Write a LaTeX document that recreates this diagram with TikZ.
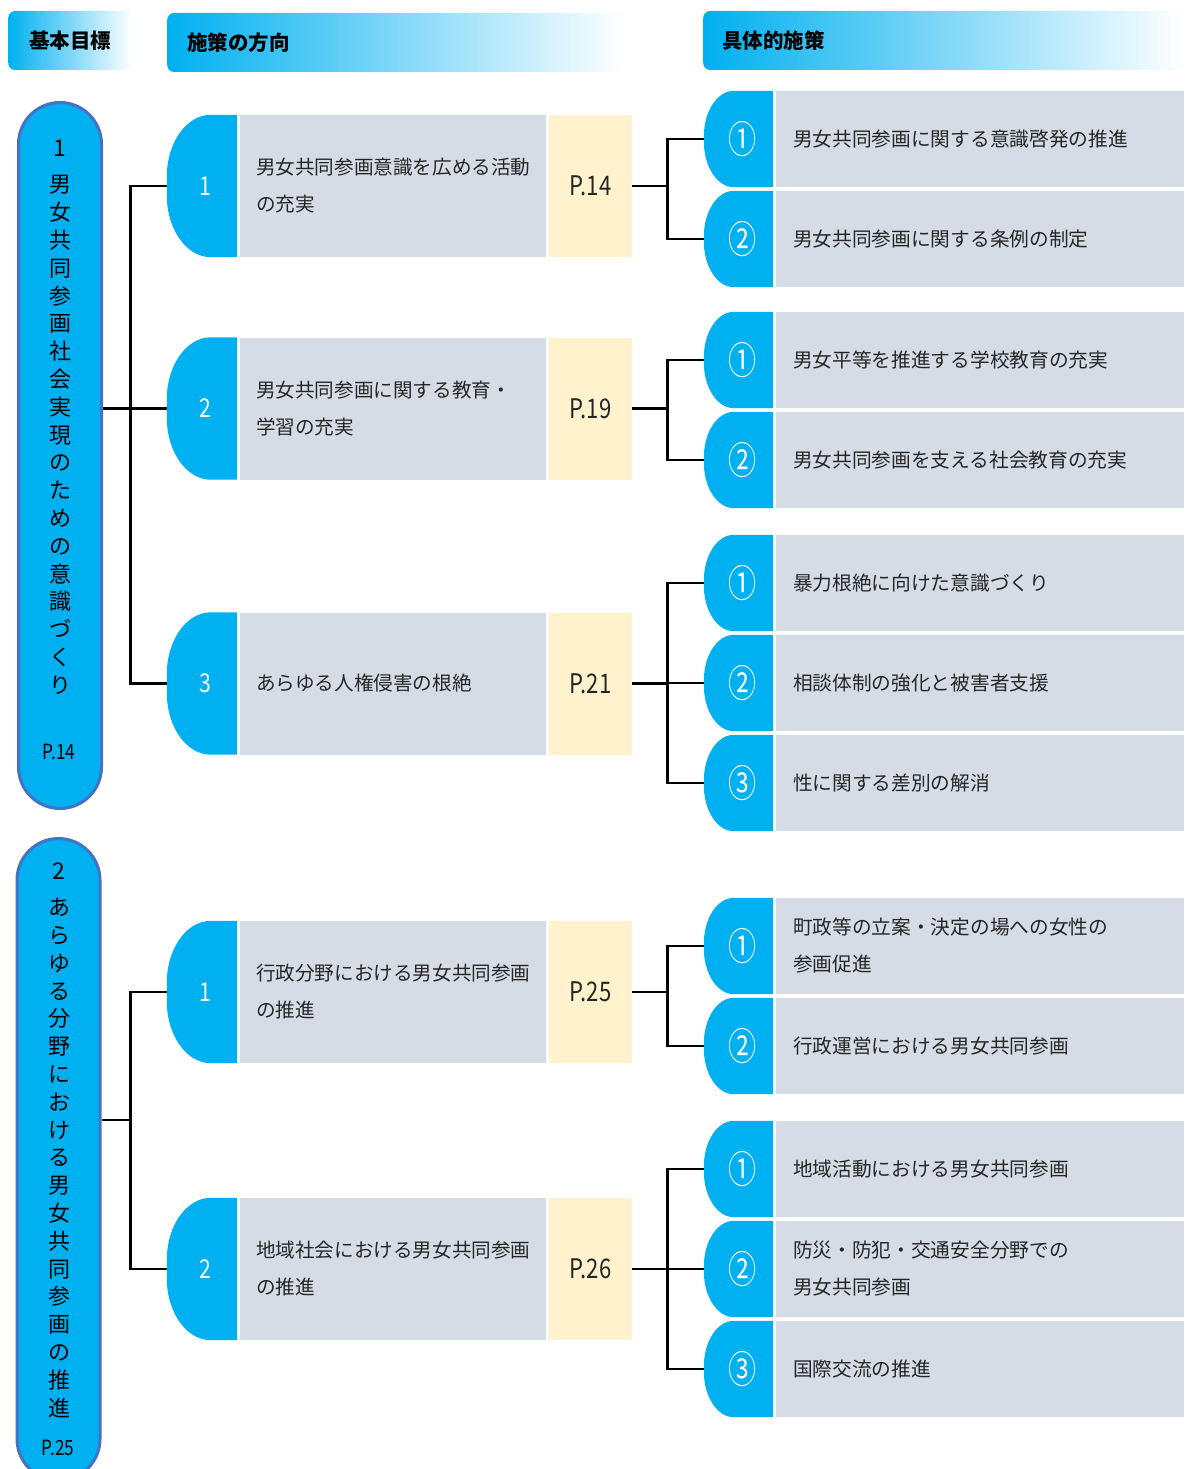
\documentclass[tikz,border=0pt]{standalone}
\usepackage{fontspec}
\setmainfont{Noto Sans CJK JP}
\newfontfamily\narrowfont[FakeStretch=0.82]{Noto Sans CJK JP}
\newfontfamily\circfont[FakeStretch=0.74]{Noto Sans CJK JP}
\usetikzlibrary{calc}
\definecolor{cblue}{HTML}{00B0F0}
\definecolor{mgray}{HTML}{D6DCE5}
\definecolor{pyellow}{HTML}{FFF2CC}
\definecolor{pborder}{HTML}{4472C4}
\definecolor{txt}{HTML}{262626}
\pgfdeclarelayer{background}
\pgfsetlayers{background,main}
\newcommand\bluetab[3]{%
\begin{pgfonlayer}{background}
\fill[cblue] (#1.north east) -- ($(#1.north west)+(#2,0)$)
 .. controls ($(#1.north west)+({0.448*#2},0)$) and ($(#1.north west)+(0,{0.448*#3})$) .. ($(#1.north west)+(0,#3)$)
 -- ($(#1.south west)+(0,-#3)$)
 .. controls ($(#1.south west)+(0,{-0.448*#3})$) and ($(#1.south west)+({0.448*#2},0)$) .. ($(#1.south west)+(#2,0)$)
 -- (#1.south east) -- cycle;
\end{pgfonlayer}}
\begin{document}
\begin{tikzpicture}[x=1pt,y=-1pt,
  conn/.style={line width=2.8pt,black},
  hdr/.style={rounded corners=7pt,left color=cblue,middle color=cblue!55!white,right color=white,
    minimum height=59pt,inner ysep=0pt,anchor=west,font=\bfseries\fontsize{20.5}{24}\selectfont,text=black},
  pill/.style={draw=pborder,line width=3pt,fill=cblue,rounded corners=41.5pt,minimum width=83pt,inner sep=0pt},
  vtext/.style={align=center,inner sep=0pt,font=\fontsize{22}{27.8}\selectfont,text=black},
  pnum/.style={inner sep=0pt,font=\fontsize{23}{26}\selectfont,text=black},
  ppage/.style={inner sep=0pt,font=\narrowfont\fontsize{21}{24}\selectfont,text=black},
  mnum/.style={minimum width=70pt,minimum height=142pt,inner sep=0pt,text=white,font=\narrowfont\fontsize{26}{28}\selectfont},
  mbox/.style={fill=mgray,minimum width=306pt,minimum height=142pt,text width=274pt,inner xsep=16pt,inner ysep=0pt,
    align=left,font=\fontsize{19.6}{37}\selectfont,text=txt},
  mpage/.style={fill=pyellow,minimum width=83pt,minimum height=142pt,inner sep=0pt,text=txt,
    font=\narrowfont\fontsize{27}{30}\selectfont},
  rnum/.style={minimum width=69pt,minimum height=96pt,inner sep=0pt,text=white,font=\circfont\fontsize{38}{40}\selectfont},
  rbox/.style={fill=mgray,minimum width=408pt,minimum height=96pt,text width=374pt,inner xsep=17pt,inner ysep=0pt,
    align=left,font=\fontsize{19.7}{37}\selectfont,text=txt}]
\clip (0,0) rectangle (1184,1469);

% headers
\node[hdr,minimum width=124pt,inner xsep=0pt] (h1) at (8,40.5) {基本目標};
\node[hdr,text width=418pt,inner xsep=20pt,align=left] (h2) at (167,42.5) {施策の方向};
\node[hdr,text width=443pt,inner xsep=19pt,align=left] (h3) at (703,40.5) {具体的施策};

% basic goal pills
\node[pill,minimum height=706pt] (g1) at (60,455.5) {};
\node[pnum] (g1n) at (60,148) {1};
\node[vtext] (g1t) at (60,435) {男\\女\\共\\同\\参\\画\\社\\会\\実\\現\\の\\た\\め\\の\\意\\識\\づ\\く\\り};
\node[ppage] (g1p) at (59,752) {P.14};

\node[pill,minimum height=642pt] (g2) at (58.5,1159.5) {};
\node[pnum] (g2n) at (59,871) {2};
\node[vtext] (g2t) at (59,1158) {あ\\ら\\ゆ\\る\\分\\野\\に\\お\\け\\る\\男\\女\\共\\同\\参\\画\\の\\推\\進};
\node[ppage] (g2p) at (58,1448) {P.25};

% middle nodes
\node[mnum] (m1) at (202,186) {\hspace*{6pt}1}; \bluetab{m1}{44}{62}
\node[mbox] (m1b) at (393,186) {男女共同参画意識を広める活動\\の充実};
\node[mpage] (m1p) at (590.5,186) {P.14};

\node[mnum] (m2) at (202,408.5) {\hspace*{6pt}2}; \bluetab{m2}{44}{62}
\node[mbox] (m2b) at (393,408.5) {男女共同参画に関する教育・\\学習の充実};
\node[mpage] (m2p) at (590.5,408.5) {P.19};

\node[mnum] (m3) at (202,683.5) {\hspace*{6pt}3}; \bluetab{m3}{44}{62}
\node[mbox] (m3b) at (393,683.5) {あらゆる人権侵害の根絶};
\node[mpage] (m3p) at (590.5,683.5) {P.21};

\node[mnum] (m4) at (202,992) {\hspace*{6pt}1}; \bluetab{m4}{44}{62}
\node[mbox] (m4b) at (393,992) {行政分野における男女共同参画\\の推進};
\node[mpage] (m4p) at (590.5,992) {P.25};

\node[mnum] (m5) at (202,1269) {\hspace*{6pt}2}; \bluetab{m5}{44}{62}
\node[mbox] (m5b) at (393,1269) {地域社会における男女共同参画\\の推進};
\node[mpage] (m5p) at (590.5,1269) {P.26};

% right items
\foreach \nm/\y/\num/\txt in {
  r1a/139/①/男女共同参画に関する意識啓発の推進,
  r1b/239/②/男女共同参画に関する条例の制定,
  r2a/360/①/男女平等を推進する学校教育の充実,
  r2b/460/②/男女共同参画を支える社会教育の充実,
  r3a/583/①/暴力根絶に向けた意識づくり,
  r3b/683/②/相談体制の強化と被害者支援,
  r3c/783/③/性に関する差別の解消,
  r4a/946/①/{町政等の立案・決定の場への女性の\\参画促進},
  r4b/1046/②/行政運営における男女共同参画,
  r5a/1169/①/地域活動における男女共同参画,
  r5b/1269/②/{防災・防犯・交通安全分野での\\男女共同参画},
  r5c/1369/③/国際交流の推進}{
  \node[rnum] (\nm) at (738.5,\y) {\hspace*{9pt}\num}; \bluetab{\nm}{30}{46}
  \node[rbox] (\nm b) at (980,\y) {\txt};
}

% connectors: goals to directions
\draw[conn] (m1.west) -- ++(-36,0) |- (m3.west);
\draw[conn] (m2.west) -- (m2.west -| g1.east);
\draw[conn] (m4.west) -- ++(-36,0) |- (m5.west);
\coordinate (j2) at (131,1120);
\draw[conn] (j2) -- (j2 -| g2.east);

% connectors: directions to measures
\draw[conn] (m1p.east) -- ++(36,0);
\draw[conn] (r1a.west) -- ++(-36,0) |- (r1b.west);
\draw[conn] (m2p.east) -- ++(36,0);
\draw[conn] (r2a.west) -- ++(-36,0) |- (r2b.west);
\draw[conn] (m3p.east) -- ++(36,0);
\draw[conn] (r3a.west) -- ++(-36,0) |- (r3c.west);
\draw[conn] (r3b.west) -- ++(-36,0);
\draw[conn] (m4p.east) -- ++(36,0);
\draw[conn] (r4a.west) -- ++(-36,0) |- (r4b.west);
\draw[conn] (m5p.east) -- ++(36,0);
\draw[conn] (r5a.west) -- ++(-36,0) |- (r5c.west);
\draw[conn] (r5b.west) -- ++(-36,0);
\end{tikzpicture}
\end{document}
